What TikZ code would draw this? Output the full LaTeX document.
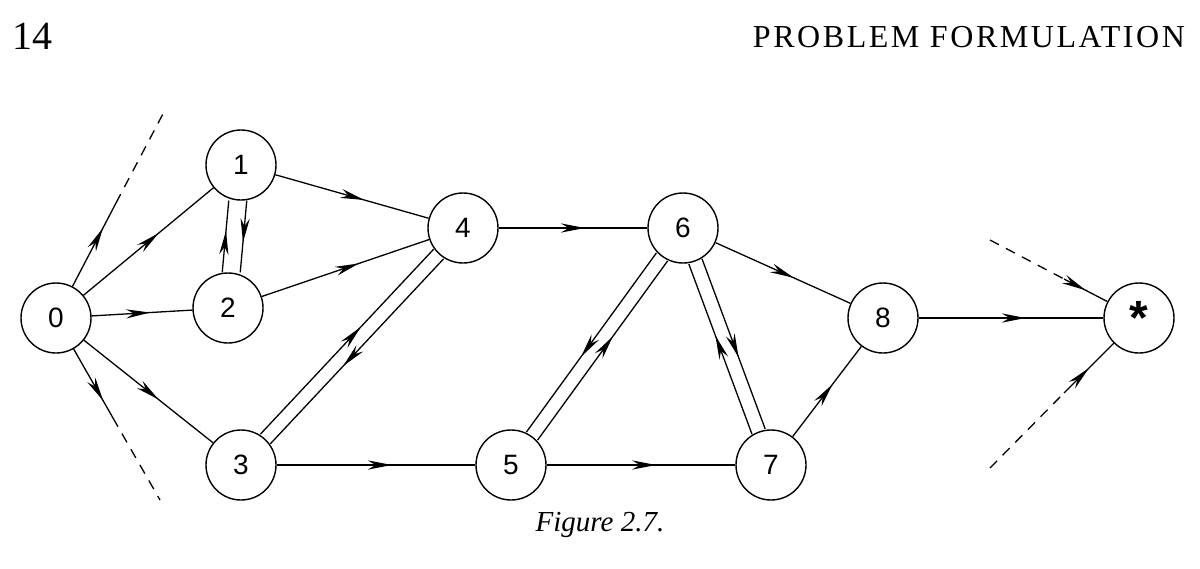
\documentclass[tikz,border=0pt]{standalone}
\usepackage{fontspec}
\setmainfont{Liberation Serif}
\newfontfamily\nodefont{Liberation Sans}
\usetikzlibrary{arrows.meta,decorations.markings}
\begin{document}
\begin{tikzpicture}[x=0.5pt,y=-0.5pt,
  st/.style={circle,draw,line width=0.7pt,minimum size=35pt,inner sep=0pt,font=\nodefont\fontsize{14pt}{14pt}\selectfont},
  mid/.style={line width=0.65pt,postaction={decorate},decoration={markings,mark=at position #1 with {\arrow{Stealth[length=12pt,width=4.6pt]}}}},
  mid/.default=0.58,
  dsh/.style={line width=0.65pt,dash pattern=on 5pt off 4pt}]
\useasboundingbox (0,0) rectangle (1200,568);
\node[font=\fontsize{20pt}{20pt}\selectfont] (pg) at (32,36) {14};
\node[anchor=east,font=\fontsize{16pt}{16pt}\selectfont] (hd) at (1192,37) {\addfontfeature{LetterSpace=8}PROBLEM FORMULATION};
\node[font=\itshape\fontsize{14.5pt}{14.5pt}\selectfont] (cap) at (600,525) {Figure 2.7.};
\node[st] (0) at (56,318) {0};
\node[st] (1) at (241,165) {1};
\node[st] (2) at (228,308) {2};
\node[st] (3) at (241,465) {3};
\node[st] (4) at (463,228) {4};
\node[st] (5) at (511,465) {5};
\node[st] (6) at (683,228) {6};
\node[st] (7) at (771,465) {7};
\node[st] (8) at (883,318) {8};
\node[st] (s) at (1139,318) {\fontsize{24pt}{24pt}\selectfont\raisebox{-5pt}{\bfseries *}};
\coordinate (a1) at (116,203); \coordinate (a2) at (165,110);
\coordinate (b1) at (113,418); \coordinate (b2) at (160,500);
\coordinate (c1) at (1064,279); \coordinate (c2) at (990,240);
\coordinate (d1) at (1064,393); \coordinate (d2) at (990,468);
\draw[mid=0.7] (0) -- (a1); \draw[dsh] (a1) -- (a2);
\draw[mid=0.75] (0) -- (b1); \draw[dsh] (b1) -- (b2);
\draw[dsh] (c2) -- (c1); \draw[mid=0.5] (c1) -- (s);
\draw[dsh] (d2) -- (d1); \draw[mid=0.5] (d1) -- (s);
\draw[mid] (0) -- (1);
\draw[mid] (0) -- (2);
\draw[mid] (0) -- (3);
\draw[mid] (1) -- (4);
\draw[mid] (2) -- (4);
\draw[mid] (4) -- (6);
\draw[mid] (3) -- (5);
\draw[mid] (5) -- (7);
\draw[mid] (6) -- (8);
\draw[mid] (7) -- (8);
\draw[mid] (8) -- (s);
\draw[mid,transform canvas={shift={(-4.5pt,0pt)}}] (2) -- (1);
\draw[mid,transform canvas={shift={(4.5pt,0pt)}}] (1) -- (2);
\draw[mid,transform canvas={shift={(-2.5pt,2.4pt)}}] (3) -- (4);
\draw[mid,transform canvas={shift={(2.5pt,-2.4pt)}}] (4) -- (3);
\draw[mid,transform canvas={shift={(-2.8pt,2pt)}}] (6) -- (5);
\draw[mid,transform canvas={shift={(2.8pt,-2pt)}}] (5) -- (6);
\draw[mid,transform canvas={shift={(-3.3pt,-1.3pt)}}] (7) -- (6);
\draw[mid,transform canvas={shift={(3.3pt,1.3pt)}}] (6) -- (7);
\end{tikzpicture}
\end{document}
